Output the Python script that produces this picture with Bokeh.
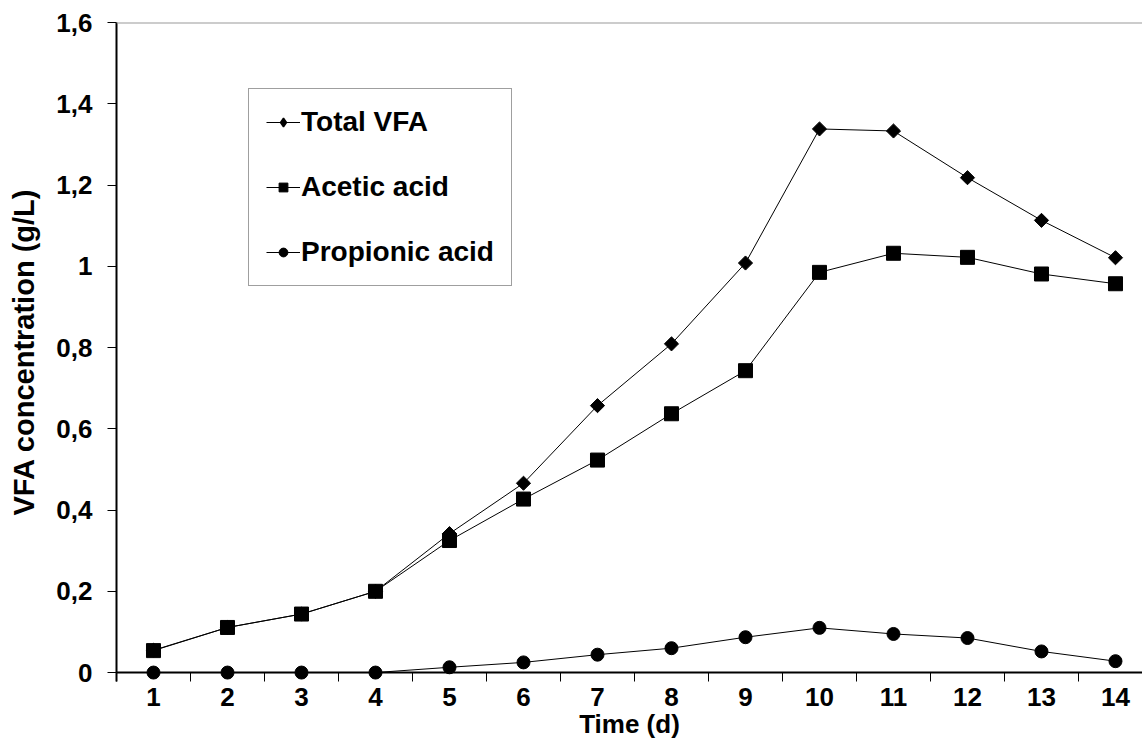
import math
from bokeh.plotting import figure
from bokeh.models import (Range1d, FixedTicker, LinearAxis, CustomJSTickFormatter,
                          Legend, LegendItem, Span, ColumnDataSource)
from bokeh.embed import file_html
from bokeh.resources import INLINE

# ---- data ----
days = list(range(1, 15))
total_vfa = [0.055, 0.111, 0.144, 0.200, 0.342, 0.466, 0.657, 0.809, 1.008,
             1.338, 1.333, 1.218, 1.113, 1.021]
acetic_acid = [0.054, 0.111, 0.144, 0.200, 0.325, 0.427, 0.523, 0.637, 0.743,
               0.985, 1.032, 1.022, 0.981, 0.957]
propionic_acid = [0.0, 0.0, 0.0, 0.0, 0.013, 0.025, 0.044, 0.060, 0.087,
                  0.110, 0.095, 0.085, 0.052, 0.028]
y_ticks = [0, 0.2, 0.4, 0.6, 0.8, 1.0, 1.2, 1.4, 1.6]
series_labels = ["Total VFA", "Acetic acid", "Propionic acid"]
x_title = "Time (d)"
y_title = "VFA concentration (g/L)"

FONT = "Liberation Sans"
FS = "26px"

src = ColumnDataSource(dict(day=days, total=total_vfa, acetic=acetic_acid,
                            prop=propionic_acid))
nan = float("nan")
proxy = ColumnDataSource(dict(x=[nan], y=[nan]))

p = figure(width=1142, height=751, output_backend="svg", toolbar_location=None,
           x_range=Range1d(0.5, 14.365), y_range=Range1d(-0.022, 1.6),
           x_axis_type=None, y_axis_type=None,
           min_border_left=116, min_border_right=0, min_border_top=22,
           min_border_bottom=70, outline_line_color=None,
           background_fill_color="white", border_fill_color="white")

xaxis = LinearAxis(
    ticker=FixedTicker(ticks=days, minor_ticks=[d - 0.5 for d in days] + [days[-1] + 0.5]),
    axis_label=x_title,
    axis_line_color=None,
    major_tick_line_color=None, major_tick_out=0, major_tick_in=0,
    minor_tick_line_color="black", minor_tick_line_width=1,
    minor_tick_out=0, minor_tick_in=9,
    major_label_text_font=FONT, major_label_text_font_style="bold",
    major_label_text_font_size=FS, major_label_text_color="black",
    major_label_standoff=6,
    axis_label_text_font=FONT, axis_label_text_font_style="bold",
    axis_label_text_font_size=FS, axis_label_text_color="black",
    axis_label_standoff=0,
)
p.add_layout(xaxis, "below")

yaxis = LinearAxis(
    ticker=FixedTicker(ticks=y_ticks, minor_ticks=[]),
    formatter=CustomJSTickFormatter(code="""
        var v = Math.round(tick*10)/10;
        return v.toString().replace('.', ',');
    """),
    axis_label=y_title,
    axis_line_color="black", axis_line_width=2,
    major_tick_line_color="black", major_tick_line_width=1,
    major_tick_out=9, major_tick_in=0,
    minor_tick_line_color=None,
    major_label_text_font=FONT, major_label_text_font_style="bold",
    major_label_text_font_size=FS, major_label_text_color="black",
    major_label_standoff=15,
    axis_label_text_font=FONT, axis_label_text_font_style="bold",
    axis_label_text_font_size="29px", axis_label_text_color="black",
    axis_label_standoff=13,
)
p.add_layout(yaxis, "left")

# plot-area top border and the x axis line at y = 0
p.add_layout(Span(location=y_ticks[-1], dimension="width",
                  line_color="#9a9a9a", line_width=2))
p.add_layout(Span(location=y_ticks[0], dimension="width",
                  line_color="black", line_width=2))

r1l = p.line("day", "total", source=src, line_color="black", line_width=1)
r1m = p.scatter("day", "total", source=src, marker="square", angle=math.pi / 4,
                size=10, fill_color="black", line_color="black")
r2l = p.line("day", "acetic", source=src, line_color="black", line_width=1)
r2m = p.scatter("day", "acetic", source=src, marker="square", size=14,
                fill_color="black", line_color="black")
r3l = p.line("day", "prop", source=src, line_color="black", line_width=1)
r3m = p.scatter("day", "prop", source=src, marker="circle", size=13,
                fill_color="black", line_color="black")

# legend-only proxy so that the legend shows a diamond
r1p = p.scatter("x", "y", source=proxy, marker="diamond", size=10,
                fill_color="black", line_color="black", line_width=1.5)

legend = Legend(
    items=[LegendItem(label=series_labels[0], renderers=[r1l, r1p]),
           LegendItem(label=series_labels[1], renderers=[r2l, r2m]),
           LegendItem(label=series_labels[2], renderers=[r3l, r3m])],
    location=(132, 395),
    padding=17, spacing=33, margin=0,
    glyph_width=34, glyph_height=22, label_standoff=1,
    label_text_font=FONT, label_text_font_style="bold",
    label_text_font_size="28px", label_text_color="black",
    border_line_color="#404040", border_line_width=1,
    background_fill_color="white", background_fill_alpha=1.0,
)
p.add_layout(legend, "center")

open("out.html", "w").write(file_html(p, INLINE))
